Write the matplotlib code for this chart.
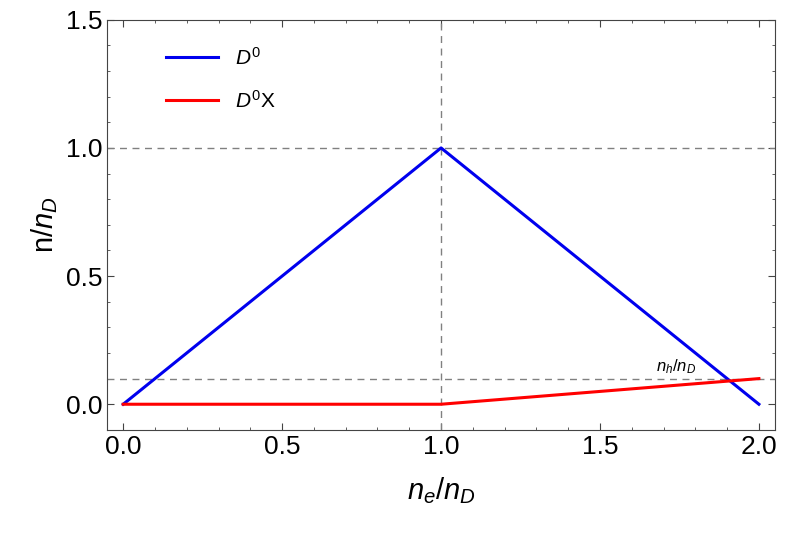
import matplotlib as mpl
mpl.use('Agg')
import matplotlib.pyplot as plt
from matplotlib.ticker import MultipleLocator, FormatStrFormatter

ne = [0.0, 1.0, 2.0]
d0 = [0.0, 1.0, 0.0]
d0x = [0.0, 0.0, 0.1]
nh = 0.1

plt.rcParams['font.family'] = ['Liberation Sans', 'DejaVu Sans']
plt.rcParams['mathtext.fontset'] = 'custom'
plt.rcParams['mathtext.it'] = 'Liberation Sans:italic'
plt.rcParams['mathtext.rm'] = 'Liberation Sans'
fig = plt.figure(figsize=(7.89, 5.34), dpi=100)
ax = fig.add_axes([0.136, 0.195, 0.846, 0.768])

ax.axhline(1.0, color='gray', ls=(0, (5, 4)), lw=1)
ax.axhline(nh, color='gray', ls=(0, (5, 4)), lw=1)
ax.axvline(1.0, color='gray', ls=(0, (5, 4)), lw=1)
ax.plot(ne, d0, color='#0000ee', lw=2.2, label='$D^0$')
ax.plot(ne, d0x, color='#ff0000', lw=2.2, label='$D^0$X')
ax.text(1.74, nh + 0.01, '$n_h/n_D$', fontsize=12, ha='center', va='bottom')

ax.set_xlim(-0.05, 2.05)
ax.set_ylim(-0.1, 1.5)
ax.xaxis.set_major_locator(MultipleLocator(0.5))
ax.yaxis.set_major_locator(MultipleLocator(0.5))
ax.xaxis.set_minor_locator(MultipleLocator(0.1))
ax.yaxis.set_minor_locator(MultipleLocator(0.1))
ax.xaxis.set_major_formatter(FormatStrFormatter('%.1f'))
ax.yaxis.set_major_formatter(FormatStrFormatter('%.1f'))
for s in ax.spines.values():
    s.set_color('#444444')
ax.tick_params(which='both', direction='in', top=True, right=True, labelsize=19, color='#444444')
ax.tick_params(which='major', length=5)
ax.tick_params(which='minor', length=2.5)
ax.set_xlabel('$n_e/n_D$', fontsize=21, labelpad=12)
ax.set_ylabel('n/$n_D$', fontsize=21)
ax.legend(loc='upper left', frameon=False, fontsize=15, handlelength=2.5,
          bbox_to_anchor=(0.06, 0.98), labelspacing=1.0)

fig.savefig('out.png', dpi=100)
